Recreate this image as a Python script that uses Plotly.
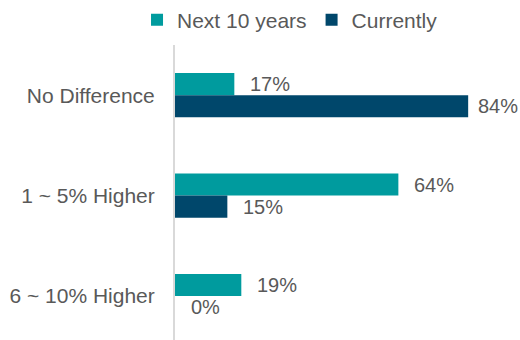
import plotly.graph_objects as go

categories = ["No Difference", "1 ~ 5% Higher", "6 ~ 10% Higher"]
next_10_years = [17, 64, 19]
currently = [84, 15, 0]
series_names = ["Next 10 years", "Currently"]

TEAL = "#009B9E"
NAVY = "#00476B"
GRAY = "#595959"
FONT = "Liberation Sans, Arial, sans-serif"

X_MAX = 98.85
PLOT_W = 520 - 175

fig = go.Figure()
fig.add_trace(go.Bar(y=categories, x=next_10_years, name=series_names[0],
                     orientation="h", marker_color=TEAL, marker_line_width=0))
fig.add_trace(go.Bar(y=categories, x=currently, name=series_names[1],
                     orientation="h", marker_color=NAVY, marker_line_width=0))

bargap = 0.56
bar_w = (1 - bargap) / 2
for si, vals in enumerate([next_10_years, currently]):
    off = -bar_w / 2 if si == 0 else bar_w / 2
    for ci, v in enumerate(vals):
        # keep labels inside the canvas (like the reference, the longest one is pulled in)
        end_px = v / X_MAX * PLOT_W
        shift = min(15, PLOT_W - end_px - 43)
        fig.add_annotation(x=v, y=ci + off, xref="x", yref="y",
                           text=f"{v}%", showarrow=False, xanchor="left",
                           yanchor="middle", xshift=shift, borderpad=0,
                           font=dict(family=FONT, size=20, color=GRAY))

fig.update_layout(
    width=520, height=340,
    margin=dict(l=175, r=0, t=45, b=0),
    barmode="group", bargap=bargap, bargroupgap=0,
    plot_bgcolor="white", paper_bgcolor="white",
    font=dict(family=FONT, size=21, color=GRAY),
    showlegend=True,
    legend=dict(orientation="h", x=0.2635, xanchor="left", xref="container",
                y=0.941, yanchor="middle", yref="container",
                font=dict(size=21, color=GRAY),
                itemwidth=30, traceorder="normal"),
    xaxis=dict(range=[0, X_MAX], visible=False, showgrid=False, zeroline=False),
    yaxis=dict(type="category", range=[2.438, -0.5], showgrid=False, zeroline=False,
               showline=True, linecolor="#D9D9D9", linewidth=2,
               ticks="", ticklabelstandoff=14,
               tickfont=dict(size=21, color=GRAY)),
)
fig.write_html("out.html")
